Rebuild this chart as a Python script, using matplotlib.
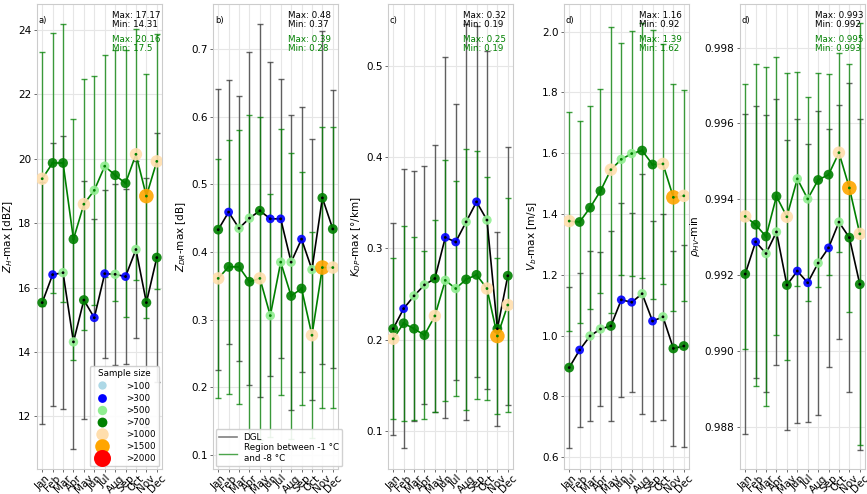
import matplotlib
matplotlib.use("Agg")
import matplotlib.pyplot as plt
import numpy as np
from matplotlib.lines import Line2D

months = ["Jan", "Feb", "Mar", "Apr", "May", "Jun", "Jul", "Aug", "Sep", "Oct", "Nov", "Dec"]

# sample sizes (category estimates) shared by all panels
n_dgl = [750, 350, 550, 550, 750, 350, 350, 550, 350, 550, 750, 750]
n_reg = [1100, 800, 800, 800, 1100, 600, 600, 800, 800, 1100, 1600, 1100]

size_thresholds = [100, 300, 500, 700, 1000, 1500, 2000]
size_labels = [">100", ">300", ">500", ">700", ">1000", ">1500", ">2000"]

# a) Z_H
zh_dgl_mean = [15.53, 16.40, 16.46, 14.31, 15.61, 15.06, 16.43, 16.41, 16.34, 17.18, 15.53, 16.93]
zh_dgl_std = [3.76, 4.09, 4.24, 3.32, 3.71, 3.06, 2.61, 2.82, 2.72, 2.74, 3.86, 3.86]
zh_reg_mean = [19.38, 19.87, 19.87, 17.50, 18.59, 19.02, 19.77, 19.49, 19.24, 20.14, 18.84, 19.92]
zh_reg_std = [3.94, 4.04, 4.31, 3.75, 3.90, 3.56, 3.45, 3.90, 4.15, 3.90, 3.78, 3.97]

# b) Z_DR
zdr_dgl_mean = [0.433, 0.459, 0.435, 0.450, 0.461, 0.449, 0.449, 0.385, 0.419, 0.374, 0.480, 0.434]
zdr_dgl_std = [0.208, 0.195, 0.196, 0.246, 0.276, 0.232, 0.206, 0.218, 0.196, 0.193, 0.246, 0.206]
zdr_reg_mean = [0.361, 0.378, 0.378, 0.356, 0.361, 0.306, 0.385, 0.335, 0.346, 0.277, 0.377, 0.377]
zdr_reg_std = [0.177, 0.188, 0.202, 0.246, 0.239, 0.179, 0.197, 0.212, 0.172, 0.152, 0.207, 0.207]

# c) K_DP
kdp_dgl_mean = [0.212, 0.234, 0.248, 0.260, 0.267, 0.312, 0.307, 0.329, 0.351, 0.331, 0.212, 0.270]
kdp_dgl_std = [0.116, 0.153, 0.137, 0.130, 0.146, 0.198, 0.151, 0.217, 0.192, 0.185, 0.106, 0.141]
kdp_reg_mean = [0.201, 0.218, 0.212, 0.205, 0.226, 0.265, 0.256, 0.266, 0.271, 0.256, 0.204, 0.238]
kdp_reg_std = [0.088, 0.107, 0.100, 0.092, 0.105, 0.132, 0.118, 0.143, 0.136, 0.122, 0.085, 0.117]

# d) V_b
vb_dgl_mean = [0.895, 0.953, 0.999, 1.022, 1.032, 1.118, 1.110, 1.138, 1.048, 1.062, 0.958, 0.966]
vb_dgl_std = [0.265, 0.254, 0.280, 0.253, 0.312, 0.320, 0.295, 0.394, 0.330, 0.338, 0.321, 0.333]
vb_reg_mean = [1.377, 1.374, 1.421, 1.476, 1.546, 1.580, 1.599, 1.609, 1.563, 1.565, 1.455, 1.460]
vb_reg_std = [0.360, 0.333, 0.333, 0.337, 0.470, 0.382, 0.402, 0.418, 0.441, 0.396, 0.373, 0.347]

# e) rho_HV
rho_dgl_mean = [0.99203, 0.99288, 0.99257, 0.99314, 0.99174, 0.99211, 0.99180, 0.99232, 0.99272, 0.99340, 0.99299, 0.99176]
rho_dgl_std = [0.00422, 0.00359, 0.00366, 0.00350, 0.00382, 0.00400, 0.00366, 0.00400, 0.00314, 0.00309, 0.00408, 0.00436]
rho_reg_mean = [0.99355, 0.99333, 0.99302, 0.99408, 0.99354, 0.99454, 0.99401, 0.99451, 0.99465, 0.99523, 0.99430, 0.99309]
rho_reg_std = [0.00350, 0.00424, 0.00447, 0.00366, 0.00378, 0.00282, 0.00269, 0.00281, 0.00265, 0.00263, 0.00327, 0.00557]

panel_letters = ["a)", "b)", "c)", "d)", "d)"]
ylabels = [r"$Z_H$-max [dBZ]", r"$Z_{DR}$-max [dB]", r"$K_{DP}$-max [°/km]", r"$V_b$-max [m/s]", r"$\rho_{HV}$-min"]
dgl_texts = ["Max: 17.17\nMin: 14.31", "Max: 0.48\nMin: 0.37", "Max: 0.32\nMin: 0.19",
             "Max: 1.16\nMin: 0.92", "Max: 0.993\nMin: 0.992"]
reg_texts = ["Max: 20.16\nMin: 17.5", "Max: 0.39\nMin: 0.28", "Max: 0.25\nMin: 0.19",
             "Max: 1.39\nMin: 1.62", "Max: 0.995\nMin: 0.993"]

panels = [
    (zh_dgl_mean, zh_dgl_std, zh_reg_mean, zh_reg_std),
    (zdr_dgl_mean, zdr_dgl_std, zdr_reg_mean, zdr_reg_std),
    (kdp_dgl_mean, kdp_dgl_std, kdp_reg_mean, kdp_reg_std),
    (vb_dgl_mean, vb_dgl_std, vb_reg_mean, vb_reg_std),
    (rho_dgl_mean, rho_dgl_std, rho_reg_mean, rho_reg_std),
]

# styles
cat_colors = ["lightblue", "blue", "lightgreen", "green", "navajowhite", "orange", "red"]
cat_sizes = [36, 40, 46, 50, 80, 110, 150]
ylims = [(10.36, 24.81), (0.0793, 0.7665), (0.0584, 0.5676), (0.5615, 2.091), (0.98689, 0.99915)]
yticks = [np.arange(12, 25, 2), np.arange(0.1, 0.75, 0.1), np.arange(0.1, 0.55, 0.1),
          np.arange(0.6, 2.05, 0.2), np.arange(0.988, 0.9985, 0.002)]
yfmts = ["{:.0f}", "{:.1f}", "{:.1f}", "{:.1f}", "{:.3f}"]
lefts = [37, 213, 388, 564, 740]

W, H = 867, 494
fig = plt.figure(figsize=(W / 100, H / 100), dpi=100)

x = np.arange(1, 13)


def cat_index(n):
    idx = 0
    for i, t in enumerate(size_thresholds):
        if n > t:
            idx = i
    return idx


for k, (dm, ds, rm, rs) in enumerate(panels):
    ax = fig.add_axes([lefts[k] / W, 1 - 469 / H, 125 / W, (469 - 4) / H])
    ax.set_facecolor("white")
    for s in ax.spines.values():
        s.set_color("#cccccc")
        s.set_linewidth(0.8)
    ax.grid(True, color="#e6e6e6", linewidth=0.8, zorder=0)
    ax.set_axisbelow(True)

    ax.errorbar(x, dm, yerr=ds, fmt="none", ecolor="#333333", elinewidth=1.0,
                capsize=2.2, capthick=1.0, alpha=0.75, zorder=1)
    ax.errorbar(x, rm, yerr=rs, fmt="none", ecolor="green", elinewidth=1.0,
                capsize=2.2, capthick=1.0, alpha=0.75, zorder=1)
    ax.plot(x, dm, color="black", lw=1.2, zorder=2)
    ax.plot(x, rm, color="green", lw=1.2, zorder=2)

    dcols = [cat_colors[cat_index(n)] for n in n_dgl]
    dsz = [cat_sizes[cat_index(n)] for n in n_dgl]
    rcols = [cat_colors[cat_index(n)] for n in n_reg]
    rsz = [cat_sizes[cat_index(n)] for n in n_reg]
    ax.scatter(x, dm, s=dsz, c=dcols, edgecolors="none", alpha=0.9, zorder=3)
    ax.scatter(x, rm, s=rsz, c=rcols, edgecolors="none", alpha=0.9, zorder=3)
    ax.scatter(x, dm, s=4, c="black", edgecolors="none", zorder=4)
    ax.scatter(x, rm, s=4, c="green", edgecolors="none", zorder=4)

    ax.set_xlim(0.5, 12.5)
    ax.set_xticks(x)
    ax.set_xticklabels(months, rotation=45, fontsize=7.5)
    ax.set_ylim(*ylims[k])
    ax.set_yticks(yticks[k])
    ax.set_yticklabels([yfmts[k].format(v) for v in yticks[k]], fontsize=7.5)
    ax.tick_params(axis="both", length=2.5, width=0.6, color="#555555", pad=1.5)
    ax.tick_params(axis="x", pad=0.5)
    ax.set_ylabel(ylabels[k], fontsize=7.5, labelpad=2)

    ax.text(0.015, 0.975, panel_letters[k], transform=ax.transAxes, fontsize=6,
            ha="left", va="top")
    ax.text(0.6, 0.985, dgl_texts[k], transform=ax.transAxes, fontsize=6.3,
            ha="left", va="top", color="black", linespacing=1.0)
    ax.text(0.6, 0.933, reg_texts[k], transform=ax.transAxes, fontsize=6.3,
            ha="left", va="top", color="green", linespacing=1.0)

    if k == 0:
        handles = [Line2D([], [], marker="o", linestyle="none", color=c, markeredgecolor="none",
                          markersize=np.sqrt(s))
                   for c, s in zip(cat_colors, cat_sizes)]
        ax.legend(handles, size_labels, title="Sample size", loc="lower right",
                  fontsize=6.3, title_fontsize=6.3, frameon=True, framealpha=0.9,
                  borderaxespad=0.3, labelspacing=0.35, handletextpad=1.8,
                  borderpad=0.4)
    if k == 1:
        handles = [Line2D([], [], color="gray", lw=1.2),
                   Line2D([], [], color="green", lw=1.0, alpha=0.7)]
        ax.legend(handles, ["DGL", "Region between -1 °C\nand -8 °C"], loc="lower left",
                  bbox_to_anchor=(0.0, 0.0), fontsize=6.3, frameon=True, framealpha=0.9,
                  borderaxespad=0.3, handlelength=2.0, labelspacing=0.2)

fig.savefig("out.png", dpi=100)
